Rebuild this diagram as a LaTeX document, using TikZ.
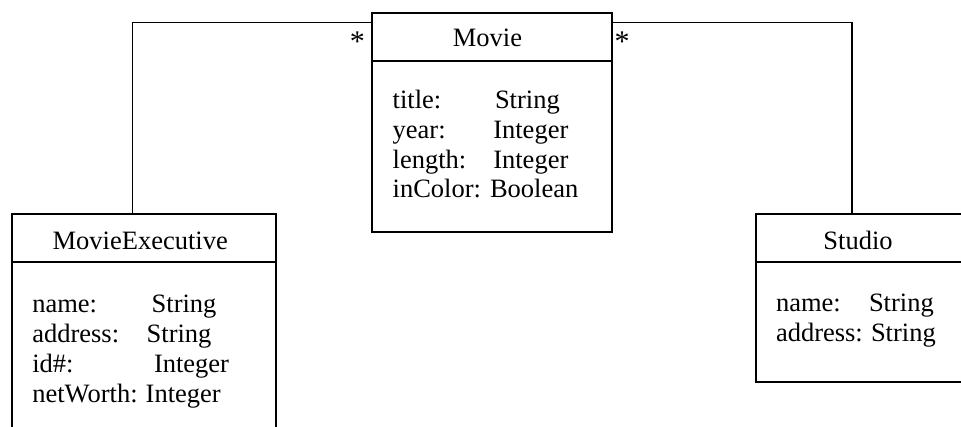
\documentclass[tikz,border=0pt]{standalone}
\usepackage{fontspec}
\setmainfont{Liberation Serif}
\begin{document}
\begin{tikzpicture}[x=1pt,y=-1pt,
  comp/.style={draw=black, line width=1.8pt, rectangle, inner sep=0pt, outer sep=0pt},
  conn/.style={draw=black, line width=1.3pt},
  txt/.style={inner sep=0pt, outer sep=0pt, anchor=base west, font=\fontsize{26.5}{30}\selectfont},
  star/.style={inner sep=0pt, outer sep=0pt, anchor=center, font=\fontsize{30}{30}\selectfont},
  ttl/.style={inner sep=0pt, outer sep=0pt, anchor=base, font=\fontsize{26.5}{30}\selectfont}]
\useasboundingbox (0,0) rectangle (961,426);
\clip (0,0) rectangle (961,426);
% Movie
\node[comp, minimum width=240pt, minimum height=48pt] (movieH) at (492,36.7) {};
\node[comp, minimum width=240pt, minimum height=171.6pt] (movieB) at (492,146.5) {};
% MovieExecutive
\node[comp, minimum width=263.7pt, minimum height=48pt] (meH) at (144.15,238.3) {};
\node[comp, minimum width=263.7pt, minimum height=177.7pt] (meB) at (144.15,351.15) {};
% Studio
\node[comp, minimum width=207.3pt, minimum height=48pt] (stH) at (859.35,238.3) {};
\node[comp, minimum width=207.3pt, minimum height=120pt] (stB) at (859.35,322.3) {};
% connectors
\draw[conn] ([yshift=-10pt]movieH.north west) -| ([xshift=-11.85pt]meH.north);
\draw[conn] ([yshift=-10pt]movieH.north east) -| ([xshift=-7.35pt]stH.north);
\node[star] (s1) at (357.3,42) {*};
\node[star] (s2) at (622,42) {*};
% titles
\node[ttl] (tMovie) at (487.5,46.7) {Movie};
\node[ttl] (tME) at (140.2,249) {MovieExecutive};
\node[ttl] (tSt) at (858,249) {Studio};
% Movie attributes
\node[txt] (ma1) at (392.7,108.5) {title:};
\node[txt] (mt1) at (495,108.5) {String};
\node[txt] (ma2) at (392.7,138.3) {year:};
\node[txt] (mt2) at (493.3,138.3) {Integer};
\node[txt] (ma3) at (392.7,168) {length:};
\node[txt] (mt3) at (493.3,168) {Integer};
\node[txt] (ma4) at (392.7,197.7) {inColor:};
\node[txt] (mt4) at (490,197.7) {Boolean};
% MovieExecutive attributes
\node[txt] (ea1) at (32.3,312.5) {name:};
\node[txt] (et1) at (151.7,312.5) {String};
\node[txt] (ea2) at (32.3,342) {address:};
\node[txt] (et2) at (146.7,342) {String};
\node[txt] (ea3) at (32.3,372) {id\#:};
\node[txt] (et3) at (154,372) {Integer};
\node[txt] (ea4) at (32.3,402) {netWorth:};
\node[txt] (et4) at (145.7,402) {Integer};
% Studio attributes
\node[txt] (sa1) at (776,311) {name:};
\node[txt] (st1) at (869,311) {String};
\node[txt] (sa2) at (776,341) {address:};
\node[txt] (st2) at (871,341) {String};
\end{tikzpicture}
\end{document}
